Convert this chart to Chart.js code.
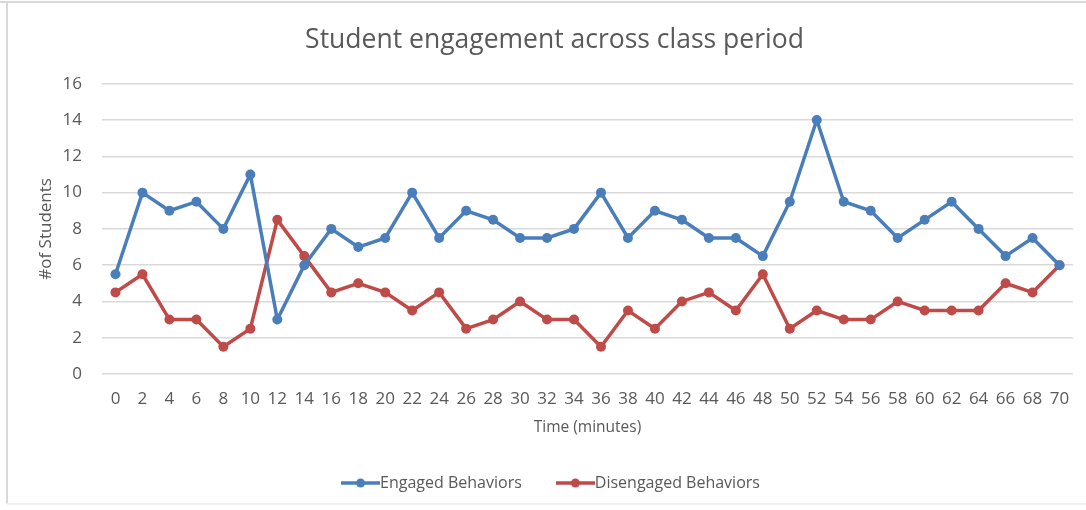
<!DOCTYPE html>
<html>
<head>
<meta charset="utf-8">
<script src="https://cdn.jsdelivr.net/npm/chart.js@4"></script>
<style>
  html, body { margin: 0; padding: 0; background: #ffffff; }
  #wrap { width: 1086px; height: 510px; position: relative; }
</style>
</head>
<body>
<div id="wrap"><canvas id="chart" width="1086" height="510"></canvas></div>
<script>
// Time points (minutes into the class period)
const minutes = ['0','2','4','6','8','10','12','14','16','18','20','22','24','26','28','30','32','34',
                 '36','38','40','42','44','46','48','50','52','54','56','58','60','62','64','66','68','70'];

// Number of students showing each behaviour at each time point
const engaged = [5.5, 10, 9, 9.5, 8, 11, 3, 6, 8, 7, 7.5, 10, 7.5, 9, 8.5, 7.5, 7.5, 8,
                 10, 7.5, 9, 8.5, 7.5, 7.5, 6.5, 9.5, 14, 9.5, 9, 7.5, 8.5, 9.5, 8, 6.5, 7.5, 6];
const disengaged = [4.5, 5.5, 3, 3, 1.5, 2.5, 8.5, 6.5, 4.5, 5, 4.5, 3.5, 4.5, 2.5, 3, 4, 3, 3,
                    1.5, 3.5, 2.5, 4, 4.5, 3.5, 5.5, 2.5, 3.5, 3, 3, 4, 3.5, 3.5, 3.5, 5, 4.5, 6];

const yTicks = [0, 2, 4, 6, 8, 10, 12, 14, 16];

const BLUE = '#4a7ebb';
const RED = '#be4b48';
const TEXT = '#595959';
const FONT = "'Open Sans', 'Noto Sans', sans-serif";

// Legend marker: a short line with a dot in the middle
function lineMarker(color) {
  const c = document.createElement('canvas');
  c.width = 39; c.height = 12;
  const g = c.getContext('2d');
  g.strokeStyle = color; g.lineWidth = 3.5;
  g.beginPath(); g.moveTo(0, 6); g.lineTo(39, 6); g.stroke();
  g.fillStyle = color;
  g.beginPath(); g.arc(19.5, 6, 4.5, 0, Math.PI * 2); g.fill();
  return c;
}

// White background plus the thin frame around the chart
const frame = {
  id: 'frame',
  beforeDraw(chart) {
    const ctx = chart.ctx;
    ctx.save();
    ctx.fillStyle = '#ffffff';
    ctx.fillRect(0, 0, chart.width, chart.height);
    ctx.strokeStyle = '#d9d9d9';
    ctx.lineWidth = 2;
    ctx.beginPath();
    ctx.moveTo(0, 2); ctx.lineTo(chart.width, 2);
    ctx.moveTo(7, 2); ctx.lineTo(7, 504);
    ctx.stroke();
    ctx.strokeStyle = '#f0f0f0';
    ctx.beginPath();
    ctx.moveTo(7, 504); ctx.lineTo(chart.width, 504);
    ctx.stroke();
    ctx.restore();
  }
};

new Chart(document.getElementById('chart'), {
  type: 'line',
  data: {
    labels: minutes,
    datasets: [
      {
        label: 'Engaged Behaviors',
        data: engaged,
        borderColor: BLUE,
        backgroundColor: BLUE,
        borderWidth: 3.5,
        pointRadius: 5,
        pointBackgroundColor: BLUE,
        pointBorderWidth: 0,
        tension: 0,
        pointStyle: 'circle'
      },
      {
        label: 'Disengaged Behaviors',
        data: disengaged,
        borderColor: RED,
        backgroundColor: RED,
        borderWidth: 3.5,
        pointRadius: 5,
        pointBackgroundColor: RED,
        pointBorderWidth: 0,
        tension: 0,
        pointStyle: 'circle'
      }
    ]
  },
  options: {
    responsive: false,
    animation: false,
    layout: { padding: { top: 8, right: 13, bottom: 9, left: 36 } },
    plugins: {
      title: {
        display: true,
        text: 'Student engagement across class period',
        color: TEXT,
        font: { family: FONT, size: 26.5, weight: 'normal' },
        padding: { top: 17, bottom: 27 }
      },
      legend: {
        position: 'bottom',
        labels: {
          color: TEXT,
          font: { family: FONT, size: 16 },
          usePointStyle: true,
          pointStyleWidth: 23,
          padding: 42,
          generateLabels(chart) {
            return chart.data.datasets.map((ds, i) => ({
              text: ds.label,
              fontColor: TEXT,
              pointStyle: lineMarker(ds.borderColor),
              datasetIndex: i,
              lineWidth: 0,
              strokeStyle: ds.borderColor,
              fillStyle: ds.borderColor
            }));
          }
        }
      },
      tooltip: { enabled: false }
    },
    scales: {
      x: {
        offset: true,
        grid: { display: false, drawTicks: false },
        border: { display: false },
        ticks: {
          color: TEXT,
          font: { family: FONT, size: 17 },
          maxRotation: 0,
          autoSkip: false,
          padding: 15
        },
        title: {
          display: true,
          text: 'Time (minutes)',
          color: TEXT,
          font: { family: FONT, size: 15.5 },
          padding: { top: 0, bottom: -3.5 }
        },
        afterFit(scale) { scale.height = 59; }
      },
      y: {
        min: 0,
        max: 16,
        afterBuildTicks(scale) { scale.ticks = yTicks.map(v => ({ value: v })); },
        grid: { color: '#d9d9d9', lineWidth: 1.5, drawTicks: false },
        border: { display: false },
        ticks: {
          color: TEXT,
          font: { family: FONT, size: 17 },
          padding: 20
        },
        title: {
          display: true,
          text: '#of Students',
          color: TEXT,
          font: { family: FONT, size: 17 },
          padding: { top: 0, bottom: 0 }
        },
        afterFit(scale) { scale.width = 66; }
      }
    }
  },
  plugins: [frame]
});
</script>
</body>
</html>
